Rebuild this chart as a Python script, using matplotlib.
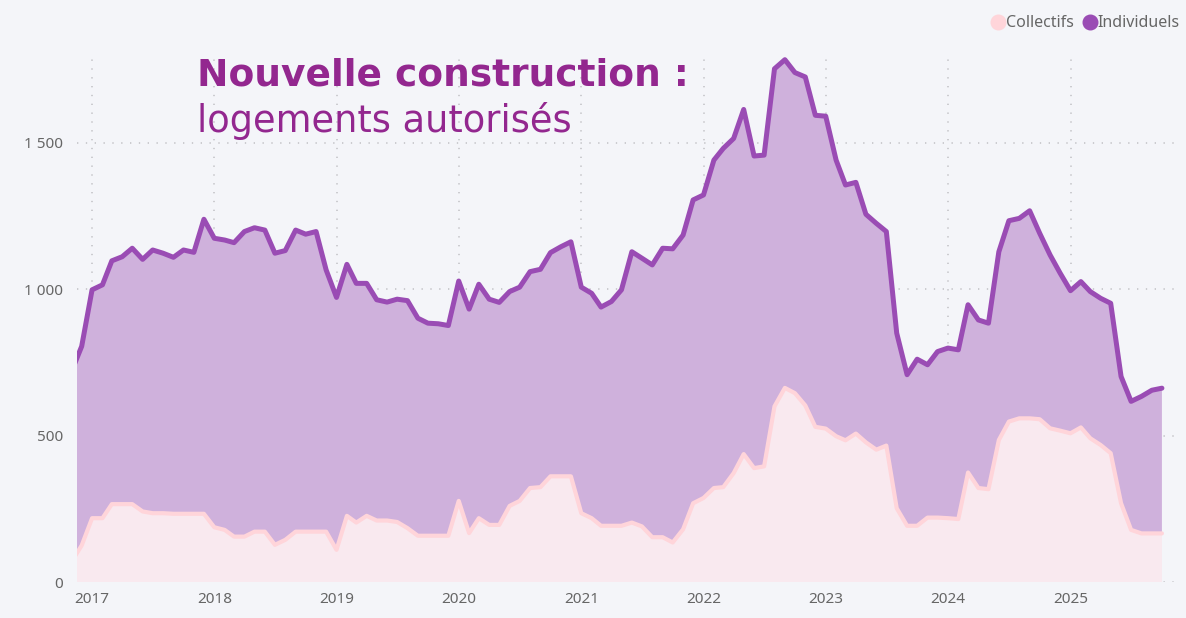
import matplotlib
matplotlib.use("Agg")
import matplotlib.pyplot as plt
from matplotlib.lines import Line2D
import pandas as pd
import numpy as np

# ---- data (monthly, Nov 2016 -> Oct 2025) ----
start_month = "2016-11-01"
collectifs = [
    70, 125,
    218, 218, 266, 266, 266, 241, 235, 235, 233, 233, 233, 233,
    187, 178, 155, 155, 172, 172, 127, 144, 172, 172, 172, 172,
    110, 226, 203, 226, 210, 210, 205, 184, 158, 158, 158, 158,
    277, 167, 218, 195, 195, 260, 277, 321, 324, 361, 361, 361,
    235, 218, 192, 192, 192, 203, 190, 153, 153, 135, 180, 269,
    287, 321, 324, 372, 437, 389, 395, 600, 663, 645, 603, 530,
    524, 498, 484, 507, 477, 452, 466, 252, 192, 192, 220, 220,
    218, 215, 374, 321, 317, 485, 548, 559, 559, 556, 525, 517,
    508, 528, 491, 468, 440, 269, 178, 166, 166, 166,
]
individuels = [
    650, 680,
    780, 797, 831, 845, 874, 861, 899, 888, 876, 901, 893, 1006,
    987, 990, 1004, 1042, 1038, 1030, 996, 988, 1030, 1016, 1025, 894,
    862, 859, 817, 794, 754, 746, 761, 777, 743, 726, 724, 718,
    751, 765, 799, 771, 760, 732, 730, 739, 744, 764, 784, 801,
    772, 768, 747, 766, 806, 925, 916, 930, 987, 1003, 1005, 1036,
    1035, 1120, 1157, 1143, 1177, 1066, 1063, 1153, 1121, 1095, 1122, 1064,
    1067, 943, 872, 858, 779, 773, 731, 598, 516, 569, 522, 567,
    581, 578, 573, 574, 567, 643, 686, 683, 709, 635, 592, 538,
    487, 498, 501, 501, 512, 433, 439, 468, 489, 496,
]
year_ticks = ["2017", "2018", "2019", "2020", "2021", "2022", "2023", "2024", "2025"]
y_ticks = [0, 500, 1000, 1500]
y_labels = ["0", "500", "1 000", "1 500"]
series_names = ["Collectifs", "Individuels"]

dates = pd.date_range(start_month, periods=len(collectifs), freq="MS")

# ---- style ----
BG = "#F4F5F9"
PURPLE_LINE = "#9A4CB4"
PURPLE_FILL = "#CFB1DC"
PINK_LINE = "#FFD5DA"
PINK_FILL = "#F9E9EF"
TITLE_COL = "#93278F"
GRID_COL = "#C4C4C8"
TXT_COL = "#666666"

fig = plt.figure(figsize=(11.86, 6.18), dpi=100, facecolor=BG)
ax = fig.add_axes([77 / 1186, 1 - 582 / 618, (1180 - 77) / 1186, (582 - 55) / 618])
ax.set_facecolor(BG)

ax.stackplot(dates, collectifs, individuels, colors=[PINK_FILL, PURPLE_FILL],
             linewidth=0, zorder=2)
total = np.add(collectifs, individuels)
ax.plot(dates, collectifs, color=PINK_LINE, lw=3.0, solid_joinstyle="round",
        solid_capstyle="round", zorder=3)
ax.plot(dates, total, color=PURPLE_LINE, lw=3.6, solid_joinstyle="round",
        solid_capstyle="round", zorder=4)

ax.set_xlim(pd.Timestamp("2016-11-17"), pd.Timestamp("2025-11-24"))
ax.set_ylim(0, 1800)

tick_dates = [pd.Timestamp(f"{y}-01-01") for y in year_ticks]
ax.set_xticks(tick_dates)
ax.set_xticklabels(year_ticks)
ax.set_yticks(y_ticks)
ax.set_yticklabels(y_labels)

for s in ax.spines.values():
    s.set_visible(False)
ax.tick_params(axis="both", length=0, colors=TXT_COL, labelsize=11)
ax.tick_params(axis="y", pad=10)
ax.tick_params(axis="x", pad=7)
for lab in ax.get_xticklabels() + ax.get_yticklabels():
    lab.set_fontfamily("Noto Sans")
    lab.set_color(TXT_COL)

ax.grid(True, color=GRID_COL, linestyle=(0, (0.8, 4.5)), linewidth=1.2, zorder=1)
ax.set_axisbelow(True)

# Title inside the chart
fig.text(197 / 1186, 1 - 86 / 618, "Nouvelle construction :", fontsize=27,
         fontweight="bold", color=TITLE_COL, family="DejaVu Sans", va="baseline")
fig.text(197 / 1186, 1 - 132 / 618, "logements autorisés", fontsize=26.5,
         color=TITLE_COL, family="DejaVu Sans", va="baseline")

# Legend
handles = [Line2D([], [], marker="o", linestyle="none", markersize=10.5,
                  markerfacecolor=PINK_LINE, markeredgecolor=PINK_LINE),
           Line2D([], [], marker="o", linestyle="none", markersize=10.5,
                  markerfacecolor=PURPLE_LINE, markeredgecolor=PURPLE_LINE)]
leg = fig.legend(handles, series_names, loc="upper right",
                 bbox_to_anchor=(1194 / 1186, 1 - 1 / 618), ncol=2, frameon=False,
                 handletextpad=0.0, columnspacing=0.5, handlelength=1.0,
                 prop={"family": "Noto Sans", "size": 11.5})
for t in leg.get_texts():
    t.set_color(TXT_COL)

fig.savefig("out.png", dpi=100, facecolor=BG)
